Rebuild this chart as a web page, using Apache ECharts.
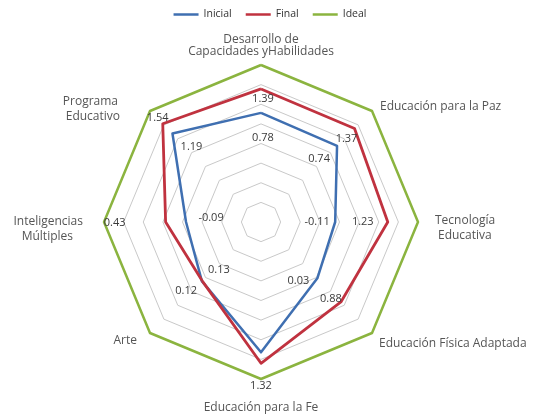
<!DOCTYPE html>
<html>
<head>
<meta charset="utf-8">
<script src="https://cdn.jsdelivr.net/npm/echarts@6/dist/echarts.min.js"></script>
<style>html,body{margin:0;padding:0;background:#fff;}#c{width:540px;height:416px;}</style>
</head>
<body>
<div id="c"></div>
<script>
// Indicators in clockwise order starting at the top
const indicators = ['Desarrollo de\nCapacidades yHabilidades', 'Educación para la Paz', 'Tecnología\nEducativa', 'Educación Física Adaptada', 'Educación para la Fe', 'Arte', 'Inteligencias\nMúltiples', 'Programa\nEducativo'];
const inicial = [0.78, 0.74, -0.11, 0.03, 1.32, 0.13, -0.09, 1.19];
const finalV  = [1.39, 1.37, 1.23, 0.88, 1.60, 0.12, 0.43, 1.54];
const ideal   = [2, 2, 2, 2, 2, 2, 2, 2];
const seriesNames = ['Inicial', 'Final', 'Ideal'];
const axisMin = -2, axisMax = 2;
const hiddenLabels = { Final: [4] }; // Final value on "Educación para la Fe" has no label in the reference

// ---- styling / placement (not data) ----
// label offsets from each point, per indicator (clockwise from top)
const labelOffsets = [
  [[2,25],[-18,13],[-18,0],[-19,3],[0,34],[17,-11],[25,-4],[19,13]],
  [[2,10],[-8,10],[-25,0],[-10,-3],[0,0],[-16,10],[-51,1],[-5,-6]]
];
// per indicator name, per line: [padTop, padRight, padBottom, padLeft], lineHeight
const namePads = [
  [[[0,0,0,0],12],[[0,0,0,0],12]],
  [[[0,0,0,3],15]],
  [[[0,0,0,10],15],[[0,0,0,13],15]],
  [[[0,0,0,2],15]],
  [[[0,0,0,0],15]],
  [[[0,8,0,0],15]],
  [[[0,14,0,0],15],[[0,24,0,0],15]],
  [[[0,27,0,0],15],[[0,25,0,0],15]]
];
// invisible spacer line heights that push names down
const nameSpacers = [0, 2, 12, 11, 14, 6, 15, 7];
const CX = 261, CY = 222, R = 157;

// ECharts lays indicators counter-clockwise; reorder so the picture goes clockwise
const order = [0, 7, 6, 5, 4, 3, 2, 1];
const pick = arr => order.map(i => arr[i]);

function idxFromPoint(px, py) {
  let a = Math.atan2(px - CX, -(py - CY));
  let i = Math.round(a / (Math.PI / 4));
  return (i + 8) % 8;
}

const rich = {};
namePads.forEach((lines, i) => {
  lines.forEach((cfg, j) => {
    rich['n' + i + '_' + j] = { padding: cfg[0], lineHeight: cfg[1], fontSize: 12, color: '#555', fontFamily: 'Open Sans' };
  });
  rich['sp' + i] = { lineHeight: nameSpacers[i], fontSize: 1, color: 'rgba(0,0,0,0)' };
});

const chart = echarts.init(document.getElementById('c'), null, {renderer: 'canvas'});
const labelStyle = { show: true, fontSize: 11, color: '#3a3a3a', fontFamily: 'Open Sans' };
const option = {
  animation: false,
  backgroundColor: '#fff',
  legend: {
    top: 4,
    left: 'center',
    data: seriesNames,
    icon: 'rect',
    itemWidth: 25,
    itemHeight: 2.5,
    itemGap: 14,
    textStyle: { fontSize: 10.5, color: '#333', fontFamily: 'Open Sans' }
  },
  radar: {
    center: [CX, CY],
    radius: R,
    startAngle: 90,
    splitNumber: 8,
    shape: 'polygon',
    nameGap: 7,
    indicator: pick(indicators).map(n => ({ name: n, min: axisMin, max: axisMax })),
    axisName: {
      color: '#555', fontSize: 12, fontFamily: 'Open Sans',
      formatter: function (name) {
        const i = indicators.indexOf(name);
        const body = name.split('\n').map((l, j) => '{n' + i + '_' + j + '|' + l + '}').join('\n');
        return nameSpacers[i] > 0 ? '{sp' + i + '| }\n' + body : body;
      },
      rich: rich
    },
    axisLine: { show: false },
    axisTick: { show: false },
    axisLabel: { show: false },
    splitArea: { show: false },
    splitLine: { lineStyle: { color: '#c9c9c9', width: 1 } }
  },
  series: [{
    type: 'radar',
    symbol: 'circle',
    symbolSize: 1,
    labelLayout: function (params) {
      const r = params.rect;
      const px = r.x + r.width / 2, py = r.y + r.height / 2;
      const i = idxFromPoint(px, py);
      const set = labelOffsets[params.dataIndex];
      const off = set ? set[i] : [0, 0];
      return { x: px + off[0], y: py + off[1], align: 'center', verticalAlign: 'middle' };
    },
    data: [
      { name: 'Inicial', value: pick(inicial),
        lineStyle: { color: '#3f6fb1', width: 2.5 }, itemStyle: { color: '#3f6fb1' },
        label: Object.assign({}, labelStyle, { formatter: p => p.value.toFixed(2) }) },
      { name: 'Final', value: pick(finalV),
        lineStyle: { color: '#c0323f', width: 2.8 }, itemStyle: { color: '#c0323f' },
        label: Object.assign({}, labelStyle, {
          formatter: p => (hiddenLabels.Final.some(k => finalV[k] === p.value) ? '' : p.value.toFixed(2)) }) },
      { name: 'Ideal', value: pick(ideal),
        lineStyle: { color: '#8bb43f', width: 2.5 }, itemStyle: { color: '#8bb43f' },
        label: { show: false } }
    ]
  }]
};
chart.setOption(option);
</script>
</body>
</html>
